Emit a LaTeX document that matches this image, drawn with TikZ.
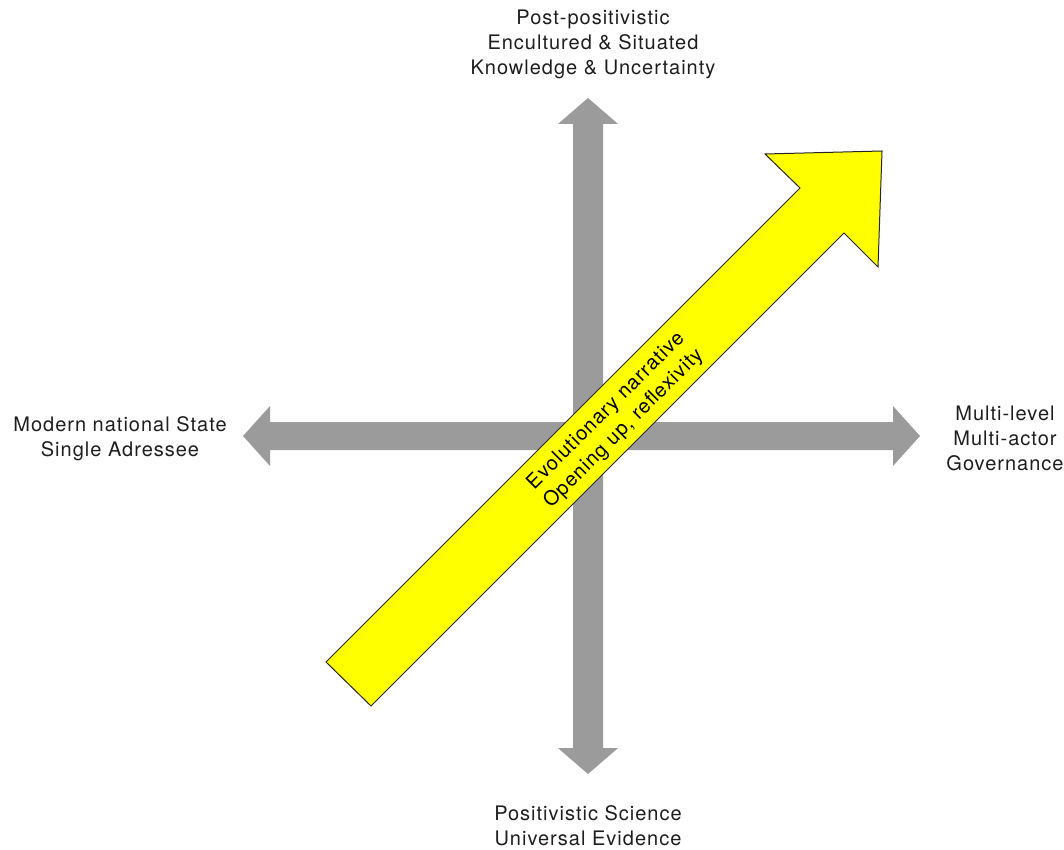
\documentclass[tikz,border=0pt]{standalone}
\usepackage{fontspec}
\setmainfont{TeX Gyre Heros}[LetterSpace=5]
\definecolor{axisgray}{RGB}{155,155,155}
\definecolor{txtgray}{RGB}{30,30,30}
\definecolor{arrowyellow}{RGB}{255,255,0}
\begin{document}
\begin{tikzpicture}[x=1pt, y=-1pt,
		axislabel/.style={align=center, text=txtgray, font=\fontsize{20}{25}\selectfont},
		axisarrow/.style={fill=axisgray, draw=none},
		bigarrow/.style={fill=arrowyellow, draw=black!85, line width=1pt, line join=miter}]
					\useasboundingbox (0,0) rectangle (1064,850);
					% the two grey axes
					\path[axisarrow] (588,98) -- (618,124) -- (603,124) -- (603,748) -- (618,748) -- (588,774)
						-- (558,748) -- (573,748) -- (573,124) -- (558,124) -- cycle;
					\path[axisarrow] (243,436) -- (270,406) -- (270,422) -- (893,422) -- (893,406) -- (920,436)
						-- (893,466) -- (893,450) -- (270,450) -- (270,466) -- cycle;
					% the yellow arrow
					\draw[bigarrow] (326,662) -- (800,188) -- (765,154) -- (882,151) -- (878,267) -- (844,233) -- (371,706) -- cycle;
					\node (Y) at (615,420) [axislabel, rotate=45, text=black] {Evolutionary narrative\\Opening up, reflexivity};
					% the labels at the ends of the axes
					\node (N) at (593,44)  [axislabel] {Post-positivistic\\Encultured \& Situated\\Knowledge \& Uncertainty};
					\node (S) at (588,826) [axislabel] {Positivistic Science\\Universal Evidence};
					\node (W) at (120,439) [axislabel] {Modern national State\\Single Adressee};
					\node (E) at (1005,438) [axislabel] {Multi-level\\Multi-actor\\Governance};
			\end{tikzpicture}
\end{document}
